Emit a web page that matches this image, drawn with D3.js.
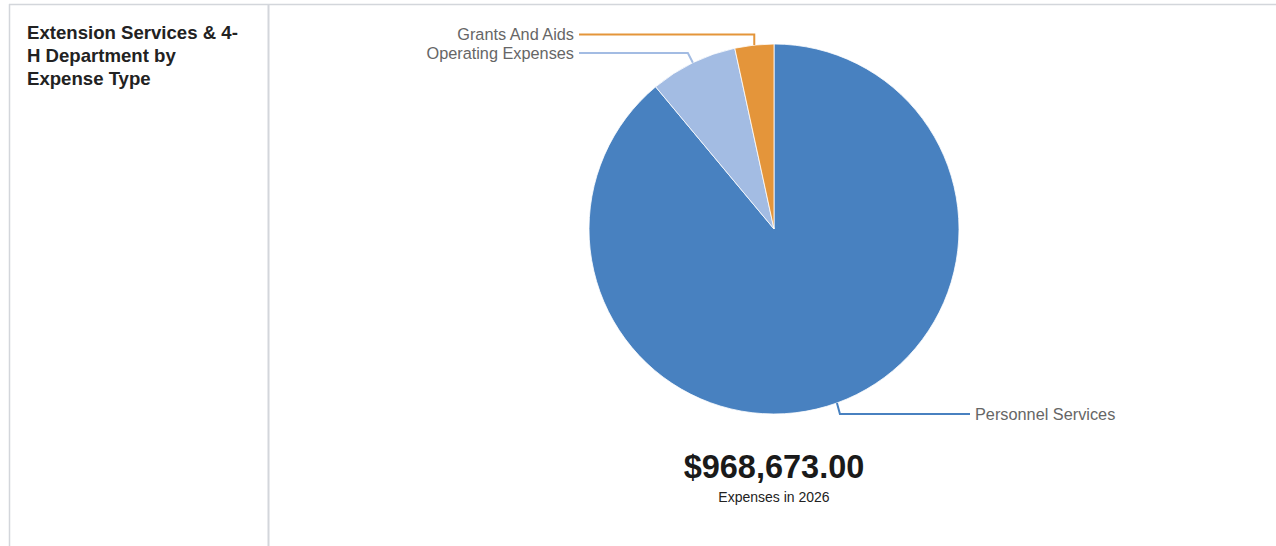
<!DOCTYPE html>
<html>
<head>
<meta charset="utf-8">
<script src="https://cdn.jsdelivr.net/npm/d3@7"></script>
<style>
  html, body { margin: 0; padding: 0; background: #fff; overflow: hidden; }
  svg { display: block; font-family: "Liberation Sans", Arial, Helvetica, sans-serif; }
</style>
</head>
<body>
<svg id="chart" width="1276" height="546"></svg>
<script>
const categories = ["Personnel Services", "Operating Expenses", "Grants And Aids"];
const values = [861635, 74103, 32935];
const colors = ["#4881C0", "#A3BCE3", "#E4953A"];
const titleLines = ["Extension Services & 4-", "H Department by", "Expense Type"];
const totalLabel = "$968,673.00";
const subLabel = "Expenses in 2026";

const svg = d3.select("#chart");
const W = 1276, H = 546;

// panel borders
svg.append("line").attr("x1", 9).attr("x2", W).attr("y1", 4.5).attr("y2", 4.5)
  .attr("stroke", "#d3d6db").attr("stroke-width", 1.5);
svg.append("line").attr("x1", 9.5).attr("x2", 9.5).attr("y1", 4).attr("y2", H)
  .attr("stroke", "#d3d6db").attr("stroke-width", 1.5);
svg.append("line").attr("x1", 268.5).attr("x2", 268.5).attr("y1", 4).attr("y2", H)
  .attr("stroke", "#d3d6db").attr("stroke-width", 2);

// title
const title = svg.append("text").attr("x", 27).attr("y", 39)
  .attr("font-size", 18.6).attr("font-weight", "bold").attr("fill", "#222");
titleLines.forEach((t, i) => {
  title.append("tspan").attr("x", 27).attr("dy", i === 0 ? 0 : 23).text(t);
});

// pie
const cx = 774, cy = 229, r = 185;
const data = categories.map((c, i) => ({ name: c, value: values[i], color: colors[i] }));
const pie = d3.pie().value(d => d.value).sort(null);
const arcs = pie(data);
const arc = d3.arc().innerRadius(0).outerRadius(r);
const g = svg.append("g").attr("transform", `translate(${cx},${cy})`);
g.selectAll("path").data(arcs).enter().append("path")
  .attr("d", arc).attr("fill", d => d.data.color)
  .attr("stroke", "#fff").attr("stroke-width", 0.8);

// leader lines & labels
const labelLayout = {
  "Personnel Services": { dy: r, dx: 3, side: 1, end: 196 },
  "Operating Expenses": { dy: -r + 9, dx: -5, side: -1, end: -195 },
  "Grants And Aids": { dy: -r - 9.5, dx: 0, side: -1, end: -195 }
};
arcs.forEach(a => {
  const mid = (a.startAngle + a.endAngle) / 2;
  const sx = Math.sin(mid) * r, sy = -Math.cos(mid) * r;
  const L = labelLayout[a.data.name];
  const ex = sx + L.dx, ey = L.dy;
  const tx = L.end;
  g.append("polyline")
    .attr("points", `${sx},${sy} ${ex},${ey} ${tx},${ey}`)
    .attr("fill", "none").attr("stroke", a.data.color).attr("stroke-width", 2);
  g.append("text")
    .attr("x", tx + L.side * 5).attr("y", ey)
    .attr("dy", "0.35em")
    .attr("text-anchor", L.side > 0 ? "start" : "end")
    .attr("font-size", 16.3).attr("fill", "#666")
    .text(a.data.name);
});

// total
svg.append("text").attr("x", cx).attr("y", 478).attr("text-anchor", "middle")
  .attr("font-size", 32.5).attr("font-weight", "bold").attr("fill", "#1a1a1a")
  .text(totalLabel);
svg.append("text").attr("x", cx).attr("y", 502).attr("text-anchor", "middle")
  .attr("font-size", 14).attr("fill", "#222")
  .text(subLabel);
</script>
</body>
</html>
